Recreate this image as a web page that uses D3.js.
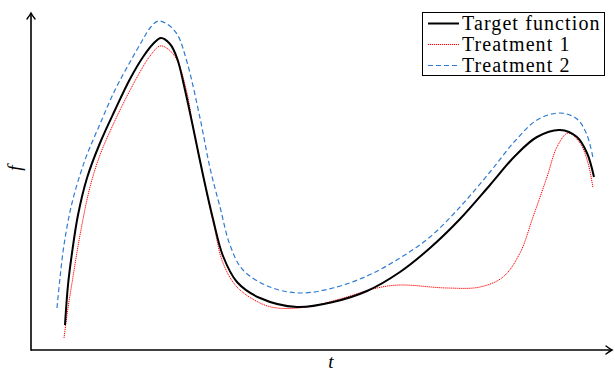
<!DOCTYPE html>
<html>
<head>
<meta charset="utf-8">
<script src="https://cdn.jsdelivr.net/npm/d3@7"></script>
<style>
  body { margin: 0; background: #fff; }
  svg { display: block; }
</style>
</head>
<body>
<div id="chart"></div>
<script>
// samples, [t, f] in arbitrary units
const target = [
  [34, 25], [37, 65], [41, 97], [47, 135], [56, 172], [69, 207], [84, 240],
  [99, 271], [112, 293], [122, 306], [130, 312], [139, 306], [146, 292],
  [154, 260], [162, 223], [172, 175], [182, 131], [192, 94], [206, 68],
  [229, 52], [266, 43], [302, 48], [336, 59], [369, 78], [399, 102],
  [429, 131], [459, 165], [484, 194], [506, 213], [529, 220], [546, 213],
  [556, 197], [563, 173]
];
const treatment1 = [
  [33, 12], [37, 42], [41, 67], [49, 115], [59, 163], [69, 195], [81, 223],
  [94, 250], [109, 278], [119, 294], [129, 304], [137, 301], [146, 290],
  [156, 257], [162, 223], [174, 165], [183, 124], [192, 87], [206, 63],
  [229, 47], [246, 42], [276, 43], [309, 51], [346, 62], [369, 65], [416, 62],
  [449, 63], [472, 73], [489, 97], [502, 133], [516, 173], [526, 203],
  [537, 217], [549, 207], [557, 187], [562, 162]
];
const treatment2 = [
  [26, 42], [29, 72], [33, 105], [41, 147], [54, 190], [69, 226], [84, 260],
  [99, 288], [111, 309], [119, 322], [127, 329], [136, 326], [146, 316],
  [156, 288], [169, 232], [179, 182], [189, 143], [199, 105], [212, 80],
  [239, 63], [269, 57], [302, 62], [336, 74], [369, 92], [399, 113],
  [429, 143], [459, 178], [484, 209], [506, 230], [529, 237], [546, 231],
  [556, 215], [562, 192]
];
const seriesNames = ["Target function", "Treatment 1", "Treatment 2"];

const width = 615, height = 373;
const svg = d3.select("#chart").append("svg")
  .attr("width", width)
  .attr("height", height);

const x = d3.scaleLinear().domain([0, 582]).range([31, 613]);
const y = d3.scaleLinear().domain([0, 338]).range([350, 12]);

// open arrow heads like tikz "->"
const defs = svg.append("defs");
defs.append("marker")
  .attr("id", "arrow")
  .attr("viewBox", "-8 -5 10 10")
  .attr("refX", 0).attr("refY", 0)
  .attr("markerWidth", 10).attr("markerHeight", 10)
  .attr("markerUnits", "userSpaceOnUse")
  .attr("orient", "auto")
  .append("path")
  .attr("d", "M-6,-4 Q-2,-1 0,0 Q-2,1 -6,4")
  .attr("fill", "none")
  .attr("stroke", "#000")
  .attr("stroke-width", 1.4)
  .attr("stroke-linecap", "round");

const axisG = svg.append("g");
axisG.append("line")
  .attr("x1", x(0)).attr("x2", x(582) - 1)
  .attr("y1", y(0)).attr("y2", y(0))
  .attr("stroke", "#000").attr("stroke-width", 1.6)
  .attr("marker-end", "url(#arrow)");
axisG.append("line")
  .attr("x1", x(0)).attr("x2", x(0))
  .attr("y1", y(0) + 0.8).attr("y2", y(338) + 1)
  .attr("stroke", "#000").attr("stroke-width", 1.6)
  .attr("marker-end", "url(#arrow)");

svg.append("text")
  .attr("x", 331).attr("y", 368)
  .attr("text-anchor", "middle")
  .style("font", "italic 19px 'Liberation Serif', serif")
  .text("t");
svg.append("text")
  .attr("transform", "translate(21,168) rotate(-90)")
  .attr("text-anchor", "middle")
  .style("font", "italic 19px 'Liberation Serif', serif")
  .text("f");

const line = d3.line()
  .x(d => x(d[0]))
  .y(d => y(d[1]))
  .curve(d3.curveCatmullRom.alpha(0.5));

const styles = [
  { color: "#000", width: 2, dash: null },
  { color: "#ff0000", width: 1, dash: "1.2,0.8" },
  { color: "#2f7bd1", width: 1.2, dash: "5,3" }
];

const plotG = svg.append("g");
[treatment2, treatment1, target].forEach((data, i) => {
  const s = styles[2 - i];
  plotG.append("path")
    .datum(data)
    .attr("d", line)
    .attr("fill", "none")
    .attr("stroke", s.color)
    .attr("stroke-width", s.width)
    .attr("stroke-dasharray", s.dash);
});

// legend
const legend = svg.append("g");
legend.append("rect")
  .attr("x", 422.5).attr("y", 12.5)
  .attr("width", 182).attr("height", 63)
  .attr("fill", "#fff").attr("stroke", "#000").attr("stroke-width", 1);

seriesNames.forEach((name, i) => {
  const s = styles[i];
  const yy = 23.5 + i * 21;
  legend.append("line")
    .attr("x1", 428).attr("x2", 459)
    .attr("y1", yy).attr("y2", yy)
    .attr("stroke", s.color)
    .attr("stroke-width", s.width)
    .attr("stroke-dasharray", s.dash);
  legend.append("text")
    .attr("x", 462).attr("y", yy + 6)
    .style("font", "20px 'Liberation Serif', serif")
    .style("letter-spacing", "1.1px")
    .text(name);
});
</script>
</body>
</html>
